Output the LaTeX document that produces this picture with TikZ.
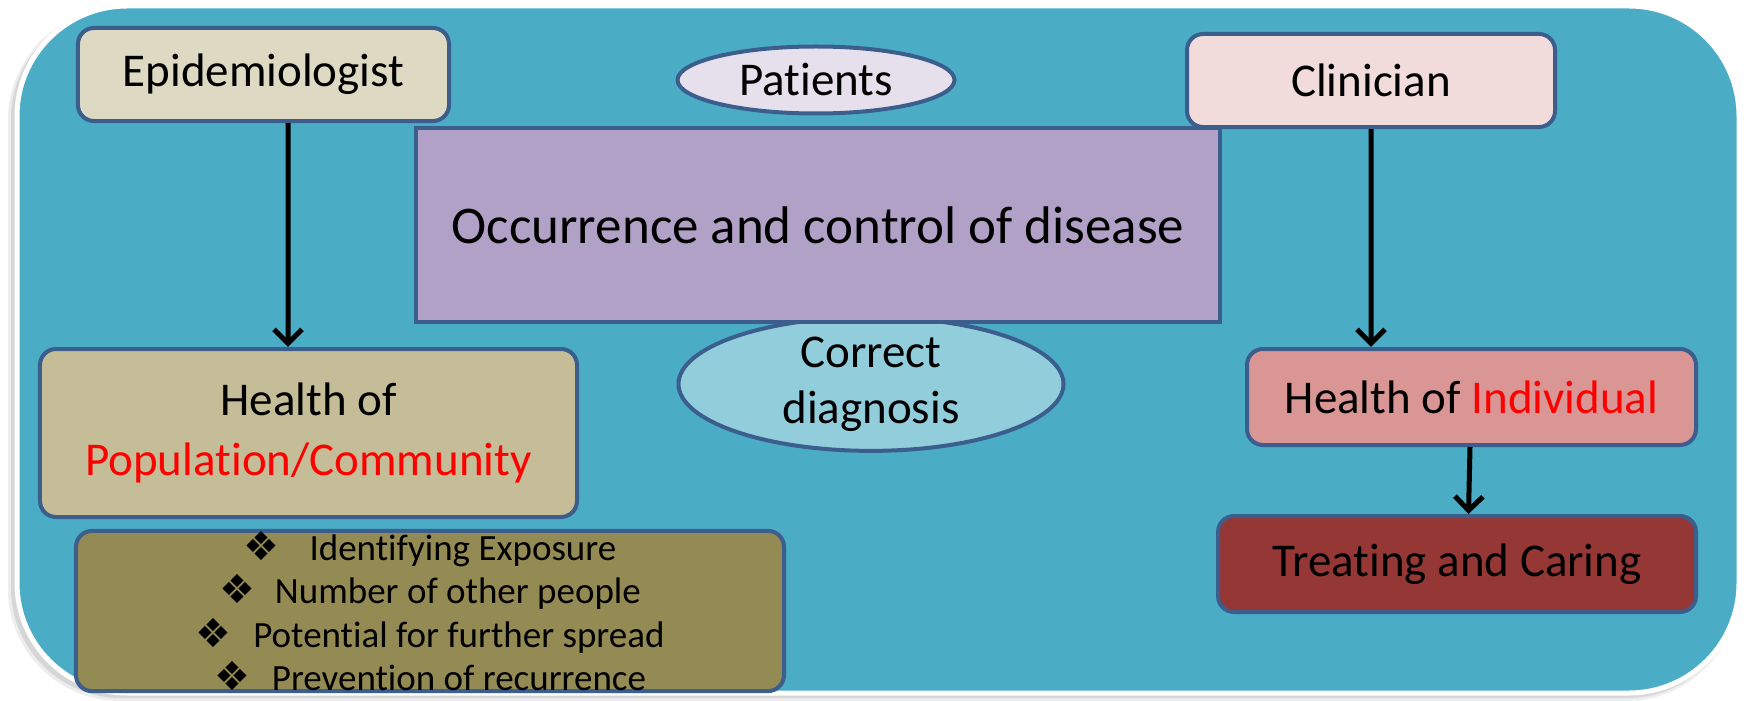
\documentclass[tikz,border=0pt]{standalone}
\usepackage{fontspec}
\setmainfont{Carlito}[Ligatures=NoCommon]
\newfontfamily\symfont{DejaVu Sans}
\usetikzlibrary{arrows.meta,shapes.geometric}
\definecolor{panelblue}{HTML}{4BACC6}
\definecolor{edgeblue}{HTML}{3B5E8C}
\definecolor{epifill}{HTML}{DDD9C3}
\definecolor{patfill}{HTML}{E5E0EC}
\definecolor{clinfill}{HTML}{F2DCDB}
\definecolor{mainfill}{HTML}{B2A1C7}
\definecolor{diagfill}{HTML}{92CDDC}
\definecolor{popfill}{HTML}{C4BD97}
\definecolor{bulfill}{HTML}{948A54}
\definecolor{indfill}{HTML}{D99694}
\definecolor{treatfill}{HTML}{953735}
\definecolor{redtext}{HTML}{FF0000}
\newcommand{\dia}{{\symfont\fontsize{40bp}{30bp}\selectfont ❖}}
\begin{document}
\begin{tikzpicture}[x=1bp,y=-1bp,
  box/.style={draw=edgeblue,line width=4bp,rounded corners=16bp,inner sep=0pt,align=center,font=\fontsize{47bp}{60bp}\selectfont},
  oval/.style={ellipse,draw=edgeblue,line width=4bp,inner sep=0pt,align=center,font=\fontsize{47bp}{56bp}\selectfont},
  arr/.style={line width=5bp,-{Straight Barb[length=14bp,width=28bp,line width=5bp]}}]
\useasboundingbox (0,0) rectangle (1752,701);
\fill[white] (0,0) rectangle (1752,701);
% panel with shadow
\fill[black!7,rounded corners=112bp] (8,8) rectangle (1738,701);
\fill[black!16,rounded corners=110bp] (11,9) rectangle (1737,698);
\draw[white,line width=5bp,fill=panelblue,rounded corners=110bp] (17,6) rectangle (1739,693);
% nodes
\node[box,fill=epifill,minimum width=371bp,minimum height=93bp] (epi) at (263.5,74.5) {Epidemiologist};
\node[box,fill=clinfill,minimum width=368bp,minimum height=93bp] (clin) at (1371,80.5) {Clinician};
\node[oval,fill=patfill,minimum width=277bp,minimum height=67bp] (pat) at (816,80) {Patients};
\node[oval,fill=diagfill,minimum width=385bp,minimum height=125bp] (diag) at (871,384) {Correct\\diagnosis};
\node[draw=edgeblue,line width=4bp,fill=mainfill,minimum width=804bp,minimum height=194bp,inner sep=0pt,font=\fontsize{53bp}{60bp}\selectfont] (main) at (818,225) {Occurrence and control of disease};
\node[box,fill=popfill,minimum width=537bp,minimum height=168bp] (pop) at (308.5,433) {Health of\\\textcolor{redtext}{Population/Community}};
\node[box,fill=bulfill,minimum width=708bp,minimum height=158bp,font=\fontsize{37bp}{43.6bp}\selectfont] (bul) at (430,611)
  {\dia\hspace{30bp}Identifying Exposure\\
   \dia\hspace{20bp}Number of other people\\
   \dia\hspace{22bp}Potential for further spread\\
   \dia\hspace{22bp}Prevention of recurrence};
\node[box,fill=indfill,minimum width=449bp,minimum height=96bp] (ind) at (1471.5,397) {Health of \textcolor{redtext}{Individual}};
\node[box,fill=treatfill,minimum width=478bp,minimum height=96bp] (treat) at (1457,564) {Treating and Caring};
% arrows
\draw[arr] ([xshift=24.5bp]epi.south) -- ([xshift=-20.5bp]pop.north);
\draw[arr] (clin.south) -- ([xshift=-100.5bp]ind.north);
\draw[arr] ([xshift=-1.5bp]ind.south) -- ([xshift=11.5bp]treat.north);
\end{tikzpicture}
\end{document}
